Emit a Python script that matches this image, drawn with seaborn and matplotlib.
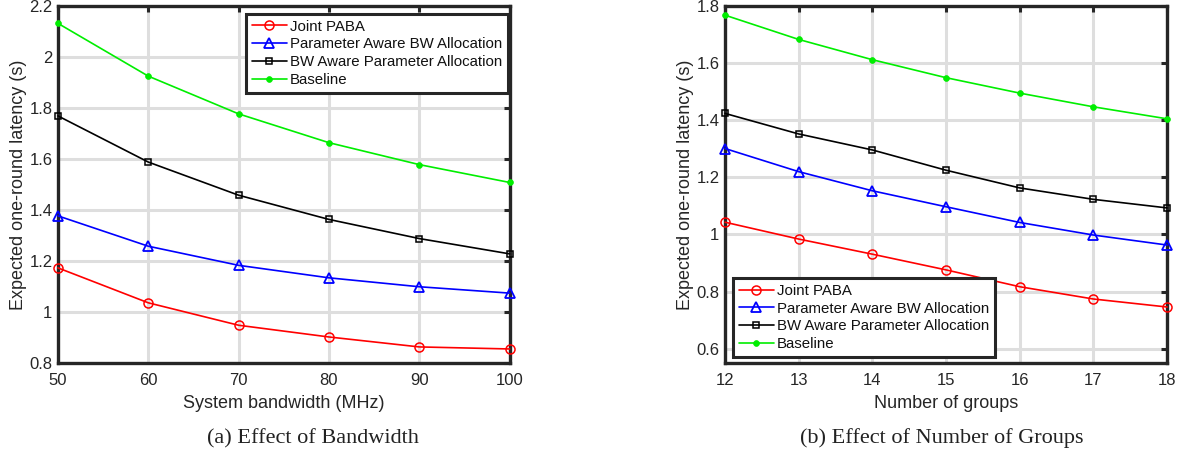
import matplotlib
matplotlib.use("Agg")
import matplotlib.pyplot as plt
import seaborn as sns
import pandas as pd

# Series names
methods = ["Joint PABA", "Parameter Aware BW Allocation",
           "BW Aware Parameter Allocation", "Baseline"]

# (a) latency vs. system bandwidth
bandwidth_mhz = [50, 60, 70, 80, 90, 100]
bw_joint = [1.173, 1.036, 0.948, 0.902, 0.863, 0.855]
bw_param_aware = [1.377, 1.258, 1.183, 1.134, 1.099, 1.074]
bw_bw_aware = [1.769, 1.588, 1.458, 1.363, 1.288, 1.228]
bw_baseline = [2.132, 1.925, 1.777, 1.664, 1.578, 1.508]

# (b) latency vs. number of groups
num_groups = [12, 13, 14, 15, 16, 17, 18]
g_joint = [1.043, 0.984, 0.931, 0.876, 0.817, 0.774, 0.746]
g_param_aware = [1.301, 1.220, 1.153, 1.097, 1.042, 0.998, 0.963]
g_bw_aware = [1.424, 1.352, 1.296, 1.225, 1.163, 1.123, 1.093]
g_baseline = [1.768, 1.683, 1.612, 1.549, 1.495, 1.447, 1.405]

colors = {methods[0]: "#ff0000", methods[1]: "#0000ff",
          methods[2]: "#000000", methods[3]: "#00ee00"}
marker_style = {
    methods[0]: dict(marker="o", markersize=6.5, markerfacecolor="none", markeredgewidth=1.1),
    methods[1]: dict(marker="^", markersize=7.5, markerfacecolor="none", markeredgewidth=1.3),
    methods[2]: dict(marker="s", markersize=4.5, markerfacecolor="none", markeredgewidth=1.1),
    methods[3]: dict(marker="o", markersize=4.2, markeredgewidth=0.5),
}

sns.set_theme(style="white")
plt.rcParams["font.family"] = ["Liberation Sans", "DejaVu Sans"]

INK = "#262626"


def long_form(x, series, xname):
    frames = []
    for name, vals in zip(methods, series):
        frames.append(pd.DataFrame({xname: x, "latency": vals, "method": name}))
    return pd.concat(frames, ignore_index=True)


def draw(ax, df, xname):
    for name in methods:
        sub = df[df["method"] == name]
        sns.lineplot(data=sub, x=xname, y="latency", ax=ax, color=colors[name],
                     linewidth=1.2, label=name, markeredgecolor=colors[name],
                     clip_on=False, zorder=3, **marker_style[name])
    ax.grid(True, color="#dedede", linewidth=2.2)
    ax.set_axisbelow(True)
    for sp in ax.spines.values():
        sp.set_color(INK)
        sp.set_linewidth(2.4)
        sp.set_zorder(2.5)
    ax.tick_params(direction="in", length=4.5, width=2.2, color=INK,
                   top=True, right=True, labelsize=12, pad=4,
                   labelcolor=INK)
    ax.tick_params(axis="x", pad=7)
    ax.set_ylabel("Expected one-round latency (s)", fontsize=13, color=INK,
                  labelpad=1.5)


fig = plt.figure(figsize=(11.95, 4.53), dpi=100)
ax1 = fig.add_axes([0.0485, 0.1987, 0.378, 0.788])
ax2 = fig.add_axes([0.6067, 0.1987, 0.370, 0.788])

df_bw = long_form(bandwidth_mhz, [bw_joint, bw_param_aware, bw_bw_aware, bw_baseline],
                  "bandwidth")
draw(ax1, df_bw, "bandwidth")
ax1.set_xlim(50, 100)
ax1.set_ylim(0.8, 2.2)
ax1.set_xticks(bandwidth_mhz)
ax1.set_yticks([0.8, 1.0, 1.2, 1.4, 1.6, 1.8, 2.0, 2.2])
ax1.set_yticklabels(["0.8", "1", "1.2", "1.4", "1.6", "1.8", "2", "2.2"])
ax1.set_xlabel("System bandwidth (MHz)", fontsize=13, color=INK, labelpad=5)

df_g = long_form(num_groups, [g_joint, g_param_aware, g_bw_aware, g_baseline], "groups")
draw(ax2, df_g, "groups")
ax2.set_xlim(12, 18)
ax2.set_ylim(0.55, 1.8)
ax2.set_xticks(num_groups)
ax2.set_yticks([0.6, 0.8, 1.0, 1.2, 1.4, 1.6, 1.8])
ax2.set_yticklabels(["0.6", "0.8", "1", "1.2", "1.4", "1.6", "1.8"])
ax2.set_xlabel("Number of groups", fontsize=13, color=INK, labelpad=5)

leg_kw = dict(fontsize=10.8, frameon=True, fancybox=False, borderpad=0.38,
              labelspacing=0.25, handlelength=2.35, handletextpad=0.2,
              borderaxespad=0.0)
leg1 = ax1.legend(loc="upper right", bbox_to_anchor=(0.996, 0.978), **leg_kw)
leg2 = ax2.legend(loc="lower left", bbox_to_anchor=(0.018, 0.017), **leg_kw)
for leg in (leg1, leg2):
    fr = leg.get_frame()
    fr.set_edgecolor(INK)
    fr.set_linewidth(2.2)
    fr.set_alpha(1.0)
    leg.set_zorder(5)
    for t in leg.get_texts():
        t.set_color("#111111")

fig.text(0.262, 0.032, "(a) Effect of Bandwidth", ha="center", va="center",
         fontsize=16, family="Liberation Serif", color="#222222")
fig.text(0.788, 0.032, "(b) Effect of Number of Groups", ha="center", va="center",
         fontsize=16, family="Liberation Serif", color="#222222")

fig.savefig("out.png", dpi=100)
